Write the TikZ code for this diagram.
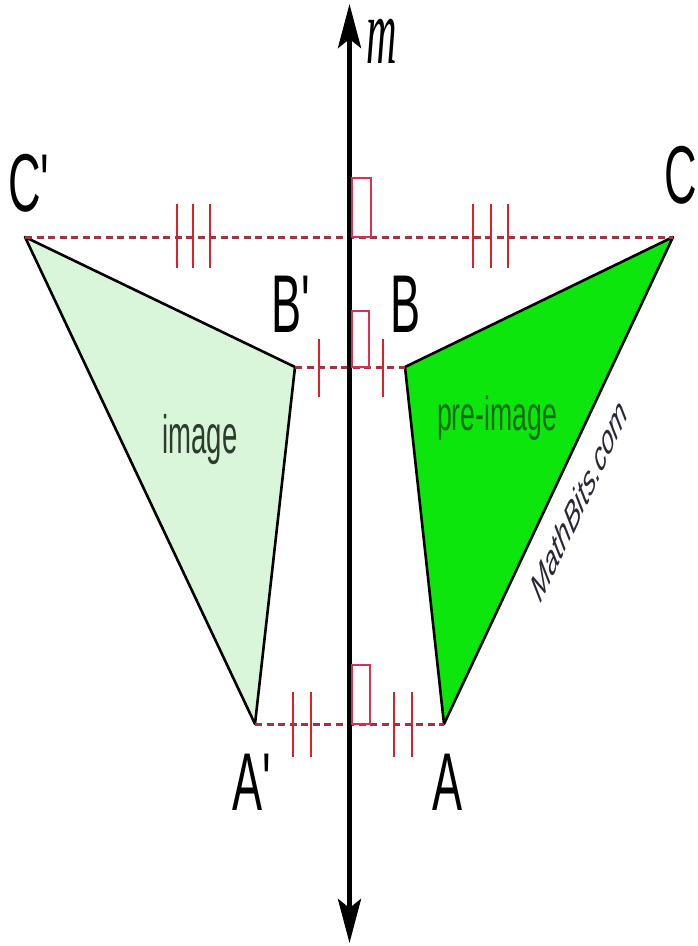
\documentclass[tikz,border=0pt]{standalone}
\usepackage{fontspec}
\usetikzlibrary{arrows.meta}
\newfontfamily\labfont[Ligatures=TeXOff]{Liberation Sans}
\newfontfamily\mfont{Liberation Serif}
\definecolor{dashcol}{RGB}{165,50,65}
\definecolor{tickcol}{RGB}{222,30,40}
\definecolor{boxcol}{RGB}{215,50,80}
\definecolor{imgfill}{RGB}{218,246,218}
\definecolor{prefill}{RGB}{12,230,12}
\definecolor{imgtext}{RGB}{45,60,45}
\definecolor{pretext}{RGB}{15,110,15}
\definecolor{marktext}{RGB}{40,40,55}
\tikzset{
  tri/.style={draw=black, line width=2.6pt, line join=round},
  mirrorline/.style={dashcol, line width=3pt, dash pattern=on 7pt off 4.5pt},
  tick/.style={tickcol, line width=2.8pt},
  rightbox/.style={boxcol, line width=2.6pt},
  vlabel/.style={anchor=base, inner sep=0pt, font=\labfont\fontsize{82}{82}\selectfont},
}
\newcommand{\sq}[1]{\scalebox{0.55}[1]{#1}}
\begin{document}
\begin{tikzpicture}[x=1pt, y=-1pt]
\useasboundingbox (0,0) rectangle (697,946);
% vertices
\coordinate (Cp) at (25,237);
\coordinate (Bp) at (295,367);
\coordinate (Ap) at (255,724);
\coordinate (C) at (673,237);
\coordinate (B) at (405,367);
\coordinate (A) at (444,724);
\coordinate (mtop) at (349.5,4);
\coordinate (mbot) at (349.5,943);
% triangles
\draw[tri, fill=imgfill] (Cp) -- (Bp) -- (Ap) -- cycle;
\draw[tri, fill=prefill] (C) -- (B) -- (A) -- cycle;
% dashed connectors
\draw[mirrorline] (Cp) -- (C);
\draw[mirrorline] (Bp) -- (B);
\draw[mirrorline] (Ap) -- (A);
% line m
\draw[line width=5pt, {Stealth[length=44pt,width=23pt,inset=9pt]}-{Stealth[length=44pt,width=23pt,inset=9pt]}] (mtop) -- (mbot);
% tick marks
\foreach \x in {177,193,210,473,491,508} \draw[tick] (\x,204) -- (\x,268);
\foreach \x in {319,383} \draw[tick] (\x,339) -- (\x,397);
\foreach \x in {293,311,394,412} \draw[tick] (\x,692) -- (\x,757);
% right-angle marks
\draw[rightbox] (352,178) rectangle (371,237);
\draw[rightbox] (352,311) rectangle (369,367);
\draw[rightbox] (352,665) rectangle (370,724);
% labels
\node[vlabel] (lCp) at (29,211) {\sq{C'}};
\node[vlabel] (lC) at (681,203) {\sq{C}};
\node[vlabel] (lBp) at (291,332) {\sq{B'}};
\node[vlabel] (lB) at (406,332) {\sq{B}};
\node[vlabel] (lAp) at (252,810) {\sq{A'}};
\node[vlabel] (lA) at (448,810) {\sq{A}};
\node[anchor=base, inner sep=0pt, text=imgtext, font=\labfont\fontsize{54}{54}\selectfont] (timg) at (200,453) {\scalebox{0.51}[1]{image}};
\node[anchor=base, inner sep=0pt, text=pretext, font=\labfont\fontsize{48}{48}\selectfont] (tpre) at (497,430) {\scalebox{0.555}[1]{pre-image}};
\node[inner sep=0pt, text=marktext, font=\labfont\itshape\fontsize{42}{42}\selectfont] (tmb) at (579,500) {\scalebox{0.52}[1]{\rotatebox{47.9}{MathBits.com}}};
\node[anchor=base, inner sep=0pt, font=\mfont\itshape\fontsize{94}{94}\selectfont] (tm) at (382,63) {\scalebox{0.45}[1]{m}};
\end{tikzpicture}
\end{document}
